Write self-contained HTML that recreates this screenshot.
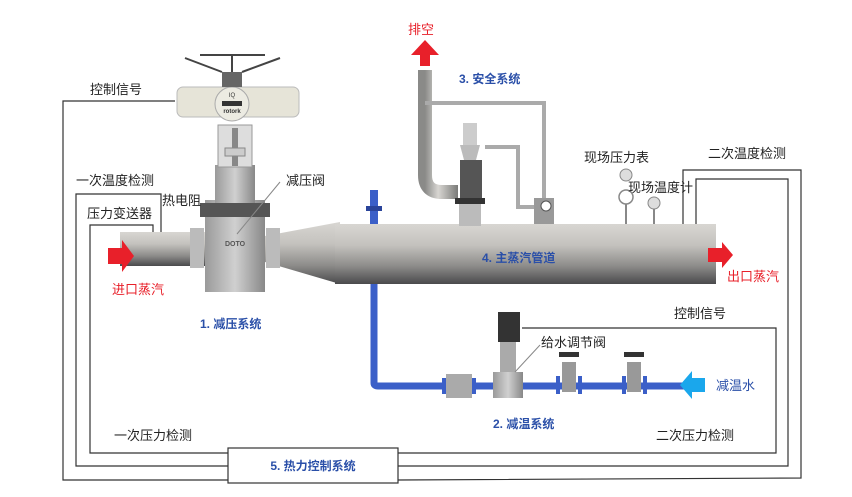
<!DOCTYPE html>
<html><head><meta charset="utf-8"><style>
html,body{margin:0;padding:0;background:#fff;}
svg{display:block;}
text{font-family:"Liberation Sans","Noto Sans CJK SC",sans-serif;}
.k{font-size:13px;fill:#222;}
.b{font-size:12px;fill:#2a4fa8;font-weight:bold;}
.r{font-size:13px;fill:#e8202a;}
</style></head><body>
<svg width="852" height="497" viewBox="0 0 852 497" xmlns="http://www.w3.org/2000/svg">
<defs>
<linearGradient id="pipe" x1="0" y1="0" x2="0" y2="1">
<stop offset="0" stop-color="#d8d6d2"/><stop offset="0.35" stop-color="#c4c2be"/><stop offset="0.7" stop-color="#8d8c8a"/><stop offset="1" stop-color="#4a4a4c"/></linearGradient>
<linearGradient id="vpipe" x1="0" y1="0" x2="1" y2="0">
<stop offset="0" stop-color="#8a8a88"/><stop offset="0.4" stop-color="#d8d6d2"/><stop offset="1" stop-color="#7a7a78"/></linearGradient>
<linearGradient id="body" x1="0" y1="0" x2="1" y2="0">
<stop offset="0" stop-color="#9a9a9a"/><stop offset="0.5" stop-color="#d0d0d0"/><stop offset="1" stop-color="#888"/></linearGradient>
<linearGradient id="blue" x1="0" y1="0" x2="0" y2="1">
<stop offset="0" stop-color="#6f8fe0"/><stop offset="0.5" stop-color="#3b5fc8"/><stop offset="1" stop-color="#2a449a"/></linearGradient>
</defs>

<!-- signal lines -->
<g fill="none" stroke="#333" stroke-width="1.2">
<polyline points="175,101 63,101 63,480 228,480"/>
<polyline points="398,480 801,478 801,170 683,170 683,226"/>
<polyline points="161,240 161,194 76,194 76,466 228,466"/>
<polyline points="398,466 788,466 788,179 696,179 696,226"/>
<polyline points="153,240 153,225 90,225 90,453 228,453"/>
<polyline points="398,453 776,453 776,328 522,328"/>
</g>
<rect x="228" y="448" width="170" height="35" fill="#fff" stroke="#333" stroke-width="1.2"/>
<text class="b" x="313" y="470" text-anchor="middle">5. 热力控制系统</text>

<!-- blue water pipe -->
<path d="M374,280 L374,383 Q374,386 378,386 L690,386" fill="none" stroke="#3b5fc8" stroke-width="7"/>
<rect x="370" y="190" width="8" height="35" fill="#3b5fc8"/>
<rect x="366" y="206" width="16" height="5" fill="#2a449a"/>

<!-- inlet pipe -->
<rect x="120" y="232" width="90" height="34" fill="url(#pipe)"/>
<!-- cone -->
<polygon points="265,236 340,222 340,284 265,262" fill="url(#pipe)"/>
<!-- main pipe -->
<rect x="335" y="224" width="381" height="60" fill="url(#pipe)"/>
<!-- valve body -->
<rect x="205" y="200" width="60" height="92" fill="url(#body)"/>
<rect x="200" y="203" width="70" height="14" fill="#555"/>
<rect x="190" y="228" width="14" height="40" fill="#bbb"/>
<rect x="266" y="228" width="14" height="40" fill="#bbb"/>
<text x="235" y="246" font-size="7" fill="#555" text-anchor="middle" font-weight="bold">DOTO</text>
<!-- stem/yoke -->
<rect x="215" y="165" width="40" height="38" fill="url(#body)"/>
<rect x="218" y="125" width="34" height="42" fill="#ddd" stroke="#999"/>
<rect x="232" y="128" width="6" height="38" fill="#888"/>
<rect x="225" y="148" width="20" height="8" fill="#ccc" stroke="#888"/>
<!-- actuator -->
<rect x="177" y="87" width="122" height="30" rx="6" fill="#e6e4d8" stroke="#bbb"/>
<circle cx="232" cy="104" r="17" fill="#ecebe2" stroke="#aaa"/>
<rect x="222" y="101" width="20" height="5" fill="#333"/>
<text x="232" y="97" font-size="6" fill="#333" text-anchor="middle">IQ</text>
<text x="232" y="113" font-size="6" fill="#333" text-anchor="middle" font-weight="bold">rotork</text>
<rect x="222" y="72" width="20" height="15" fill="#666"/>
<g stroke="#444" stroke-width="2"><line x1="185" y1="58" x2="222" y2="72"/><line x1="280" y1="58" x2="242" y2="72"/><line x1="200" y1="55" x2="265" y2="55"/><line x1="232" y1="55" x2="232" y2="72"/></g>

<!-- safety system -->
<path d="M425,70 L425,175 Q425,192 442,192 L458,192" fill="none" stroke="url(#vpipe)" stroke-width="14"/>
<polyline points="425,103 544,103 544,205" fill="none" stroke="#aaa" stroke-width="4"/>
<polyline points="485,147 518,147 518,207 540,207" fill="none" stroke="#aaa" stroke-width="4"/>
<rect x="463" y="123" width="14" height="22" fill="#ccc"/>
<polygon points="460,145 480,145 476,160 464,160" fill="#bbb"/>
<rect x="460" y="160" width="22" height="42" fill="#555"/>
<rect x="455" y="198" width="30" height="6" fill="#333"/>
<rect x="459" y="204" width="22" height="22" fill="#bbb"/>
<rect x="534" y="198" width="20" height="26" fill="#999"/>
<circle cx="546" cy="206" r="5" fill="#fff" stroke="#555"/>
<!-- gauges -->
<circle cx="626" cy="175" r="6" fill="#ddd" stroke="#888"/>
<circle cx="626" cy="197" r="7" fill="#fff" stroke="#888" stroke-width="1.5"/>
<line x1="626" y1="204" x2="626" y2="224" stroke="#888" stroke-width="2"/>
<circle cx="654" cy="203" r="6" fill="#ddd" stroke="#888"/>
<line x1="654" y1="209" x2="654" y2="224" stroke="#888" stroke-width="2"/>

<!-- red arrows -->
<polygon points="108,248 122,248 122,240 134,256 122,272 122,264 108,264" fill="#e8202a"/>
<polygon points="708,248 722,248 722,242 733,255 722,268 722,262 708,262" fill="#e8202a"/>
<polygon points="420,66 420,55 411,55 425,40 439,55 430,55 430,66" fill="#e8202a"/>
<polygon points="705,378 692,378 692,371 680,385 692,399 692,392 705,392" fill="#1aa7ec"/>

<!-- water line components -->
<rect x="446" y="374" width="26" height="24" fill="#aaa"/>
<rect x="442" y="378" width="4" height="16" fill="#3b5fc8"/><rect x="472" y="378" width="4" height="16" fill="#3b5fc8"/>
<rect x="493" y="372" width="30" height="26" fill="url(#body)"/>
<rect x="500" y="340" width="16" height="32" fill="#aaa"/>
<rect x="498" y="312" width="22" height="30" fill="#333"/>
<g fill="#999"><rect x="562" y="362" width="14" height="30"/><rect x="627" y="362" width="14" height="30"/></g>
<g fill="#333"><rect x="559" y="352" width="20" height="5"/><rect x="624" y="352" width="20" height="5"/></g>
<g fill="#3b5fc8"><rect x="556" y="376" width="4" height="18"/><rect x="578" y="376" width="4" height="18"/><rect x="622" y="376" width="4" height="18"/><rect x="643" y="376" width="4" height="18"/></g>

<!-- labels -->
<text class="k" x="90" y="94">控制信号</text>
<text class="k" x="76" y="185">一次温度检测</text>
<text class="k" x="162" y="205">热电阻</text>
<text class="k" x="87" y="218">压力变送器</text>
<text class="k" x="286" y="185">减压阀</text>
<line x1="280" y1="182" x2="237" y2="234" stroke="#888" stroke-width="1"/>
<text class="r" x="112" y="294">进口蒸汽</text>
<text class="b" x="200" y="328">1. 减压系统</text>
<text class="r" x="408" y="34">排空</text>
<text class="b" x="459" y="83">3. 安全系统</text>
<text class="k" x="584" y="162">现场压力表</text>
<text class="k" x="628" y="192">现场温度计</text>
<text class="k" x="708" y="158">二次温度检测</text>
<text class="b" x="482" y="262">4. 主蒸汽管道</text>
<text class="r" x="727" y="281">出口蒸汽</text>
<text class="k" x="674" y="318">控制信号</text>
<text class="k" x="541" y="347">给水调节阀</text>
<line x1="540" y1="345" x2="515" y2="372" stroke="#888"/>
<text x="716" y="390" font-size="13" fill="#2a4fa8">减温水</text>
<text class="b" x="493" y="428">2. 减温系统</text>
<text class="k" x="114" y="440">一次压力检测</text>
<text class="k" x="656" y="440">二次压力检测</text>
</svg>
</body></html>
